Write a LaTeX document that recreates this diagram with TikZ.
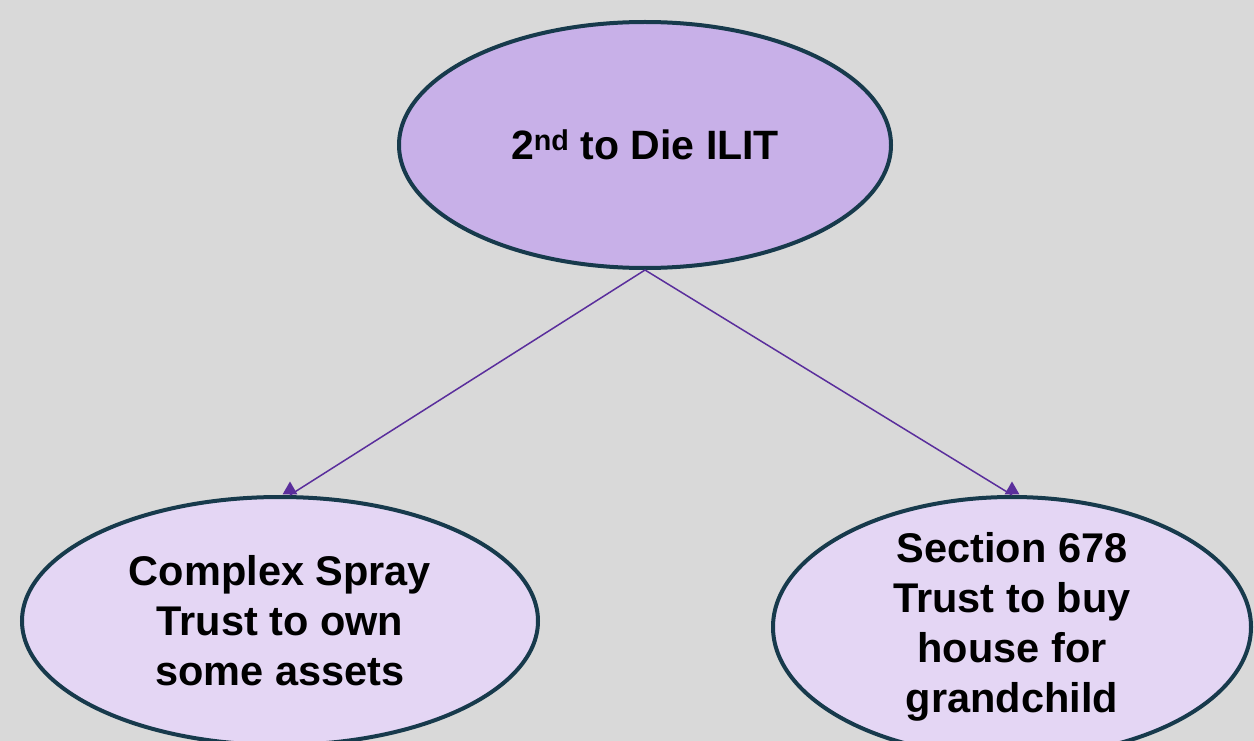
\documentclass[tikz,border=0pt]{standalone}
\usepackage{fontspec}
\setmainfont{Liberation Sans}
\usetikzlibrary{shapes.geometric}
\definecolor{bg}{HTML}{D9D9D9}
\definecolor{rootfill}{HTML}{C8B0E8}
\definecolor{leaffill}{HTML}{E4D6F4}
\definecolor{rim}{HTML}{173A4C}
\definecolor{link}{HTML}{5A2E9C}
\tikzset{
  rootnode/.style={ellipse, draw=rim, line width=4pt, fill=rootfill, inner sep=-40pt,
    minimum width=492pt, minimum height=246pt, align=center,
    font=\fontsize{41pt}{48pt}\selectfont\bfseries},
  leafnode/.style={ellipse, draw=rim, line width=4pt, fill=leaffill, inner sep=-60pt,
    align=center, font=\fontsize{41.5pt}{50pt}\selectfont\bfseries},
  linkline/.style={draw=link, line width=1.5pt},
  tipmark/.style={regular polygon, regular polygon sides=3, fill=link, draw=none,
    inner sep=0pt, minimum size=17pt, anchor=south}
}
\begin{document}
\begin{tikzpicture}[x=1pt,y=-1pt]
  \fill[bg] (0,0) rectangle (1254,741);
  \useasboundingbox (0,0) rectangle (1254,741);
  \node[rootnode] (root) at (645,145) {2\textsuperscript{nd} to Die ILIT};
  \node[leafnode, minimum width=516pt, minimum height=248pt] (spray) at (280,621)
    {Complex Spray\\Trust to own\\some assets};
  \node[leafnode, minimum width=478pt, minimum height=260pt] (house) at (1012,627)
    {Section 678\\Trust to buy\\house for\\grandchild};
  \coordinate (sprayend) at ([xshift=10pt]spray.north);
  \draw[linkline] (root.south) -- (sprayend) node[tipmark] {};
  \draw[linkline] (root.south) -- (house.north) node[tipmark] {};
\end{tikzpicture}
\end{document}
